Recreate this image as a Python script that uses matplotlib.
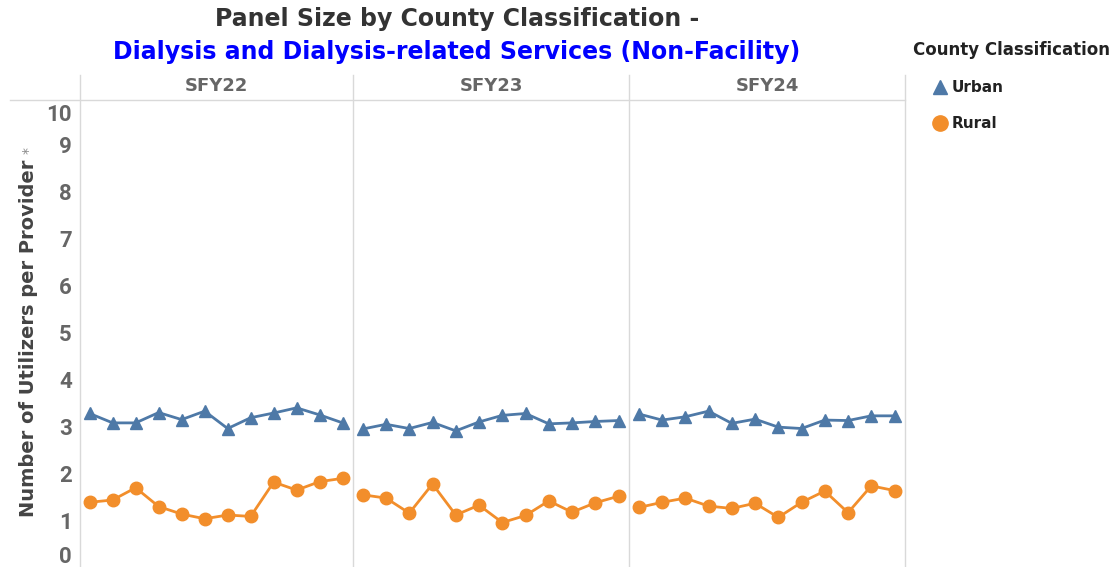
import matplotlib
matplotlib.use("Agg")
import matplotlib.pyplot as plt
from matplotlib.lines import Line2D
from matplotlib import transforms as mtrans

# ---------------- data ----------------
years = ["SFY22", "SFY23", "SFY24"]
months = list(range(12))
urban_sfy22 = [3.33, 3.13, 3.13, 3.35, 3.20, 3.38, 3.01, 3.24, 3.34, 3.45, 3.30, 3.13]
rural_sfy22 = [1.44, 1.49, 1.75, 1.35, 1.19, 1.09, 1.17, 1.14, 1.87, 1.70, 1.88, 1.95]
urban_sfy23 = [3.00, 3.10, 3.01, 3.14, 2.96, 3.15, 3.29, 3.33, 3.11, 3.13, 3.16, 3.18]
rural_sfy23 = [1.60, 1.53, 1.21, 1.83, 1.17, 1.38, 1.01, 1.16, 1.47, 1.23, 1.43, 1.57]
urban_sfy24 = [3.32, 3.19, 3.26, 3.38, 3.12, 3.21, 3.04, 3.01, 3.19, 3.18, 3.28, 3.28]
rural_sfy24 = [1.33, 1.44, 1.53, 1.36, 1.31, 1.42, 1.12, 1.44, 1.68, 1.22, 1.79, 1.69]
urban = [urban_sfy22, urban_sfy23, urban_sfy24]
rural = [rural_sfy22, rural_sfy23, rural_sfy24]
y_ticks = list(range(11))
y_tick_labels = [str(v) for v in y_ticks]

URBAN_C = "#4e79a7"
RURAL_C = "#f28e2b"
GRID_C = "#d9d9d9"
TEXT_GRAY = "#666666"

plt.rcParams['font.family'] = ['DejaVu Sans']
TICK_FONT = ["Roboto", "DejaVu Sans"]

W, H = 1114, 567
fig = plt.figure(figsize=(W / 100, H / 100), dpi=100)


def fx(x):
    return x / W


def fy(y):
    return 1 - y / H


panel_x = [80, 353, 629, 905]
top_px, bot_px = 100, 570
axes = []
for i, yr in enumerate(years):
    l, r = panel_x[i], panel_x[i + 1]
    ax = fig.add_axes([fx(l), fy(bot_px), (r - l) / W, (bot_px - top_px) / H])
    ax.plot(months, urban[i], color=URBAN_C, lw=2.0, marker="^", ms=8.5,
            markeredgecolor=URBAN_C, zorder=3)
    ax.plot(months, rural[i], color=RURAL_C, lw=2.0, marker="o", ms=9,
            markeredgecolor=RURAL_C, zorder=3)
    ax.set_xlim(-0.42, 11.45)
    ax.set_ylim(0, 10)
    for s in ax.spines.values():
        s.set_visible(False)
    ax.set_xticks([])
    ax.set_yticks([])
    ax.patch.set_alpha(0)
    axes.append(ax)
    fig.text(fx((l + r) / 2), fy(86), yr, ha="center", va="center",
             fontsize=13, fontweight="bold", color=TEXT_GRAY)

# y tick labels, placed through the first panel's data scale
ax0 = axes[0]
blend = mtrans.blended_transform_factory(ax0.transAxes, ax0.transData)
for v, lab in zip(y_ticks, y_tick_labels):
    dy = 0
    if v == 0:
        dy = 13
    elif v == 10:
        dy = -15
    tr = mtrans.offset_copy(blend, fig=fig, x=-8, y=dy, units="dots")
    ax0.text(0, v, lab, transform=tr, ha="right", va="center", fontsize=16,
             fontweight="bold", color=TEXT_GRAY, family=TICK_FONT, clip_on=False)

# separators
for x in panel_x:
    fig.add_artist(Line2D([fx(x), fx(x)], [fy(75), fy(567)], color=GRID_C, lw=1))
fig.add_artist(Line2D([fx(10), fx(905)], [fy(100), fy(100)], color=GRID_C, lw=1))

# title
fig.text(fx(457), fy(19), "Panel Size by County Classification -", ha="center", va="center",
         fontsize=17, fontweight="bold", color="#333333")
fig.text(fx(457), fy(52), "Dialysis and Dialysis-related Services (Non-Facility)", ha="center",
         va="center", fontsize=17, fontweight="bold", color="#0000ff")

# y label
fig.text(fx(29), fy(338), "Number of Utilizers per Provider", rotation=90, ha="center",
         va="center", fontsize=14, fontweight="bold", color="#444444")
fig.text(fx(29), fy(150), "*", rotation=90, ha="center", va="center",
         fontsize=10, color="#888888")

# legend
fig.text(fx(913), fy(50), "County Classification", ha="left", va="center",
         fontsize=12, fontweight="bold", color="#222222")
fig.add_artist(Line2D([fx(940)], [fy(87)], marker="^", ms=10, color=URBAN_C, lw=0))
fig.text(fx(952), fy(87), "Urban", ha="left", va="center", fontsize=11,
         fontweight="bold", color="#222222")
fig.add_artist(Line2D([fx(940)], [fy(123)], marker="o", ms=11, color=RURAL_C, lw=0))
fig.text(fx(952), fy(123), "Rural", ha="left", va="center", fontsize=11,
         fontweight="bold", color="#222222")

fig.savefig("out.png", dpi=100)
